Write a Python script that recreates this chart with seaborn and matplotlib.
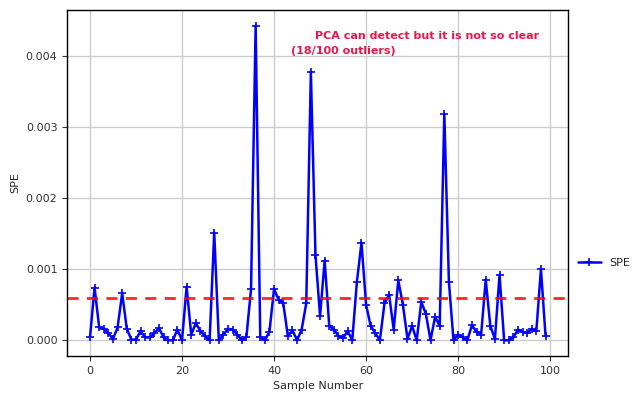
import matplotlib
matplotlib.use("Agg")
import matplotlib.pyplot as plt
import seaborn as sns
import pandas as pd

samples = list(range(100))
spe = [
    0.00004, 0.00074, 0.00018, 0.00016, 0.00010, 0.00002, 0.00018, 0.00066, 0.00016, 0.00001,
    0.00001, 0.00013, 0.00004, 0.00004, 0.00010, 0.00017, 0.00004, 0.00000, 0.00000, 0.00015,
    0.00000, 0.00075, 0.00008, 0.00024, 0.00013, 0.00006, 0.00000, 0.00151, 0.00000, 0.00008,
    0.00016, 0.00015, 0.00008, 0.00000, 0.00005, 0.00072, 0.00442, 0.00005, 0.00000, 0.00012,
    0.00072, 0.00057, 0.00052, 0.00006, 0.00014, 0.00000, 0.00015, 0.00052, 0.00377, 0.00120,
    0.00034, 0.00112, 0.00020, 0.00015, 0.00006, 0.00003, 0.00013, 0.00000, 0.00082, 0.00137,
    0.00050, 0.00020, 0.00010, 0.00000, 0.00052, 0.00064, 0.00015, 0.00084, 0.00050, 0.00002,
    0.00020, 0.00000, 0.00054, 0.00037, 0.00000, 0.00033, 0.00020, 0.00318, 0.00082, 0.00000,
    0.00008, 0.00004, 0.00000, 0.00021, 0.00012, 0.00008, 0.00085, 0.00020, 0.00002, 0.00092,
    0.00000, 0.00000, 0.00004, 0.00015, 0.00012, 0.00010, 0.00016, 0.00013, 0.00100, 0.00006,
]
threshold = 0.0006
note_line1 = "PCA can detect but it is not so clear"
note_line2 = "(18/100 outliers)"

df = pd.DataFrame({"Sample Number": samples, "SPE": spe})

sns.set_style("ticks")
plt.rcParams["font.family"] = ["DejaVu Sans"]

fig = plt.figure(figsize=(6.4, 3.96), dpi=100)
ax = fig.add_axes([0.105, 0.101, 0.783, 0.874])

sns.lineplot(data=df, x="Sample Number", y="SPE", ax=ax, color="blue",
             marker="+", markersize=6, markeredgewidth=1.2,
             markeredgecolor="blue", markerfacecolor="blue", linewidth=1.8,
             label="SPE")
ax.axhline(threshold, color="red", linestyle="--", linewidth=2, alpha=0.85,
           dashes=(4, 3))

ax.grid(True, color="#cccccc", linewidth=1)
for s in ax.spines.values():
    s.set_visible(True)
    s.set_color("black")
    s.set_linewidth(1)

ax.set_xticks([0, 20, 40, 60, 80, 100])
ax.set_yticks([0.0, 0.001, 0.002, 0.003, 0.004])
ax.set_yticklabels(["0.000", "0.001", "0.002", "0.003", "0.004"])
ax.tick_params(labelsize=8, colors="#333333")
ax.set_xlabel("Sample Number", fontsize=8)
ax.set_ylabel("SPE", fontsize=8)

ax.text(49, 0.00428, note_line1, color="#e8174a", fontsize=8, fontweight="bold",
        ha="left", va="center")
ax.text(43.6, 0.00407, note_line2, color="#e8174a", fontsize=8, fontweight="bold",
        ha="left", va="center")

ax.legend(loc="center left", bbox_to_anchor=(1.0, 0.27), frameon=False, fontsize=8)

fig.savefig("out.png", dpi=100)
